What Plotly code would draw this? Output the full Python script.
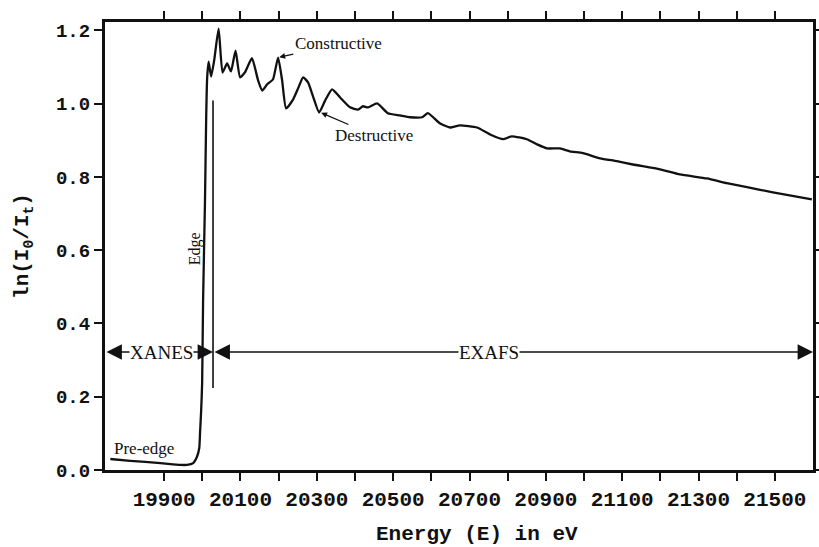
import plotly.graph_objects as go

energy = [19759, 19811, 19890, 19942, 19960, 19976, 19986, 19992, 19994, 19997,
          19999.5, 20002, 20007, 20010, 20012.6, 20016.5, 20023, 20031, 20042.7, 20053,
          20065, 20075, 20087, 20099, 20112, 20130, 20146, 20157, 20170, 20185,
          20198.5, 20209, 20219.5, 20238, 20251, 20264, 20277, 20290, 20306, 20322,
          20340, 20361, 20387, 20408, 20421, 20434, 20458, 20486, 20518, 20544,
          20576, 20591, 20623, 20649, 20675, 20720, 20754, 20788, 20811, 20850,
          20877, 20903, 20937, 20963, 20997, 21042, 21086, 21128, 21199, 21251,
          21322, 21374, 21427, 21495, 21597]
absorb = [0.030, 0.025, 0.019, 0.014, 0.014, 0.019, 0.036, 0.060, 0.101, 0.164,
          0.237, 0.464, 0.736, 0.954, 1.069, 1.115, 1.074, 1.118, 1.205, 1.085,
          1.110, 1.088, 1.145, 1.072, 1.086, 1.124, 1.064, 1.036, 1.053, 1.066,
          1.126, 1.064, 0.987, 1.012, 1.042, 1.072, 1.058, 1.020, 0.976, 1.009,
          1.039, 1.017, 0.990, 0.984, 0.993, 0.990, 1.001, 0.974, 0.968, 0.963,
          0.963, 0.974, 0.946, 0.935, 0.941, 0.935, 0.916, 0.903, 0.911, 0.903,
          0.889, 0.878, 0.878, 0.870, 0.865, 0.851, 0.843, 0.834, 0.821, 0.807,
          0.796, 0.783, 0.772, 0.758, 0.739]

x_tick_vals = list(range(19900, 21600, 100))
x_tick_text = [str(v) if (v - 19900) % 200 == 0 else "" for v in x_tick_vals]
y_tick_vals = [0.0, 0.2, 0.4, 0.6, 0.8, 1.0, 1.2]

x_range = [19745, 21600]
y_range = [0.0, 1.223]

edge_energy = 20028
edge_line_y = [0.224, 1.009]
region_arrow_y = 0.322
constructive_pt = (20199, 1.126)
destructive_pt = (20309, 0.976)

mono = "Liberation Mono"
serif = "Liberation Serif"
ink = "#111111"

fig = go.Figure()
fig.add_trace(go.Scatter(x=energy, y=absorb, mode="lines",
                         line=dict(color=ink, width=2.3, shape="spline", smoothing=0.5),
                         showlegend=False, hoverinfo="skip"))

# Edge marker line
fig.add_shape(type="line", xref="x", yref="y", x0=edge_energy, x1=edge_energy,
              y0=edge_line_y[0], y1=edge_line_y[1], line=dict(color=ink, width=1.6))

# XANES / EXAFS double arrows
for a, b in [(x_range[0], edge_energy), (edge_energy, x_range[1])]:
    fig.add_annotation(x=b, y=region_arrow_y, ax=a, ay=region_arrow_y,
                       xref="x", yref="y", axref="x", ayref="y", text="",
                       showarrow=True, arrowside="end+start", arrowhead=2,
                       arrowsize=2.2, arrowwidth=1.4, arrowcolor=ink)

fig.add_annotation(x=(x_range[0] + edge_energy) / 2 + 6, y=region_arrow_y, text="XANES",
                   showarrow=False, bgcolor="white", borderpad=0,
                   font=dict(family=serif, size=19, color=ink))
fig.add_annotation(x=20751, y=region_arrow_y, text="EXAFS",
                   showarrow=False, bgcolor="white", borderpad=0,
                   font=dict(family=serif, size=19, color=ink))

fig.add_annotation(x=19764, y=0.060, text="Pre-edge", showarrow=False,
                   xanchor="left", yanchor="middle",
                   font=dict(family=serif, size=17, color=ink))
fig.add_annotation(x=19981, y=0.603, text="Edge", showarrow=False, textangle=-90,
                   font=dict(family=serif, size=16, color=ink))

fig.add_annotation(x=constructive_pt[0], y=constructive_pt[1], text="Constructive",
                   showarrow=True, ax=60, ay=-14, arrowhead=2, arrowsize=0.9,
                   arrowwidth=1.3, arrowcolor=ink, standoff=1,
                   font=dict(family=serif, size=17, color=ink))
fig.add_annotation(x=destructive_pt[0], y=destructive_pt[1], text="Destructive",
                   showarrow=True, ax=54, ay=23, arrowhead=2, arrowsize=0.9,
                   arrowwidth=1.3, arrowcolor=ink, standoff=1,
                   font=dict(family=serif, size=17, color=ink))

# x axis title as annotation
fig.add_annotation(xref="paper", yref="paper", x=0.525, y=-0.143,
                   xanchor="center", yanchor="middle",
                   text="Energy (E) in eV", showarrow=False,
                   font=dict(family=mono, size=21, color=ink, weight="bold"))

axis_common = dict(showline=True, linecolor=ink, linewidth=3, mirror="ticks",
                   ticks="outside", ticklen=8, tickwidth=2, tickcolor=ink,
                   showgrid=False, zeroline=False, automargin=False)

fig.update_xaxes(range=x_range, tickmode="array", tickvals=x_tick_vals,
                 ticktext=x_tick_text,
                 tickfont=dict(family=mono, size=21, color=ink, weight="bold"),
                 **axis_common)
fig.update_yaxes(range=y_range, tickmode="array", tickvals=y_tick_vals,
                 tickformat=".1f",
                 tickfont=dict(family=mono, size=19, color=ink, weight="bold"),
                 title=dict(text="ln(I<sub>0</sub>/I<sub>t</sub>)", standoff=22,
                            font=dict(family=mono, size=21, color=ink, weight="bold")),
                 **axis_common)

fig.update_layout(width=819, height=547, margin=dict(l=105, r=6, t=22, b=77),
                  paper_bgcolor="white", plot_bgcolor="white", showlegend=False)

# remove the default 8px page margin so the figure fills the window exactly
fig.write_html("out.html", config={"displayModeBar": False},
               post_script="document.body.style.margin='0px';")
